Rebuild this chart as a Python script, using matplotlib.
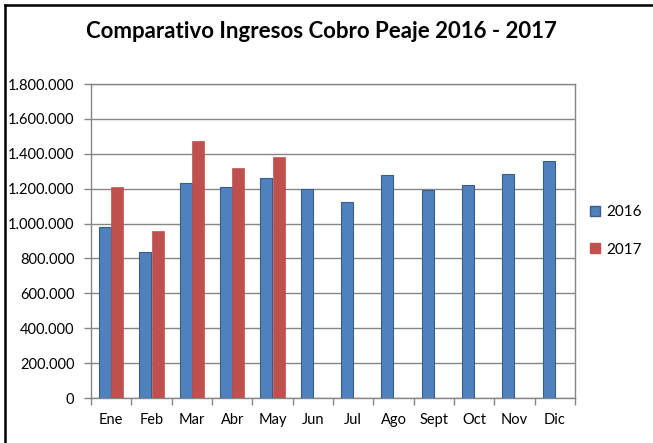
import matplotlib.pyplot as plt
import matplotlib as mpl
from matplotlib.lines import Line2D
from matplotlib.ticker import FuncFormatter, MultipleLocator
import numpy as np

months = ["Ene", "Feb", "Mar", "Abr", "May", "Jun", "Jul", "Ago", "Sept", "Oct", "Nov", "Dic"]
ingresos_2016 = [980000, 835000, 1232000, 1211000, 1261000, 1198000,
                 1125000, 1277000, 1195000, 1222000, 1283000, 1358000]
ingresos_2017 = [1210000, 955000, 1475000, 1318000, 1383000]

mpl.rcParams["font.family"] = ["Lato", "DejaVu Sans"]

fig = plt.figure(figsize=(6.53, 4.43), dpi=100)
ax = fig.add_axes([91 / 653, 1 - 398 / 443, 484 / 653, 314 / 443])

x = np.arange(len(months))
w = 0.3
ax.bar(x - w / 2, ingresos_2016, width=w, color="#4F81BD", edgecolor="#385D8A",
       linewidth=0.8, zorder=3, label="2016")
ax.bar(np.arange(len(ingresos_2017)) + w / 2, ingresos_2017, width=w, color="#C0504D",
       edgecolor="#C0504D", linewidth=0.5, zorder=3, label="2017")

ax.set_xlim(-0.5, len(months) - 0.5)
ax.set_ylim(0, 1800000)
ax.yaxis.set_major_locator(MultipleLocator(200000))
ax.yaxis.set_major_formatter(FuncFormatter(lambda v, p: f"{int(v):,}".replace(",", ".")))
ax.grid(axis="y", color="#868686", linewidth=1, zorder=0)

ax.set_xticks(x)
ax.set_xticklabels(months)
ax.set_xticks(np.arange(len(months) + 1) - 0.5, minor=True)
ax.tick_params(axis="x", which="major", length=0, pad=11, labelsize=10.5)
ax.tick_params(axis="x", which="minor", length=5, color="#868686", width=1)
ax.tick_params(axis="y", length=5, color="#868686", width=1, pad=7, labelsize=10.5)

for s in ax.spines.values():
    s.set_color("#868686")
    s.set_linewidth(1)

handles = [
    Line2D([], [], marker="s", linestyle="", markersize=7.5, markerfacecolor="#4F81BD",
           markeredgecolor="#385D8A"),
    Line2D([], [], marker="s", linestyle="", markersize=7.5, markerfacecolor="#C0504D",
           markeredgecolor="#C0504D"),
]
fig.legend(handles, ["2016", "2017"], loc="center left", bbox_to_anchor=(589 / 653, 1 - 231 / 443),
           frameon=False, fontsize=11, handletextpad=0.3, labelspacing=1.55, handlelength=0.8,
           borderpad=0, borderaxespad=0)

fig.text(0.493, 1 - 32 / 443, "Comparativo Ingresos Cobro Peaje 2016 - 2017",
         ha="center", va="center", fontsize=16, fontweight="bold")

# borde del grafico (solo arriba e izquierda visibles)
fig.add_artist(Line2D([5 / 653, 1], [1 - 5 / 443, 1 - 5 / 443], color="black", linewidth=1.8))
fig.add_artist(Line2D([5 / 653, 5 / 653], [0, 1 - 5 / 443], color="black", linewidth=1.8))

plt.savefig("out.png", dpi=100)
